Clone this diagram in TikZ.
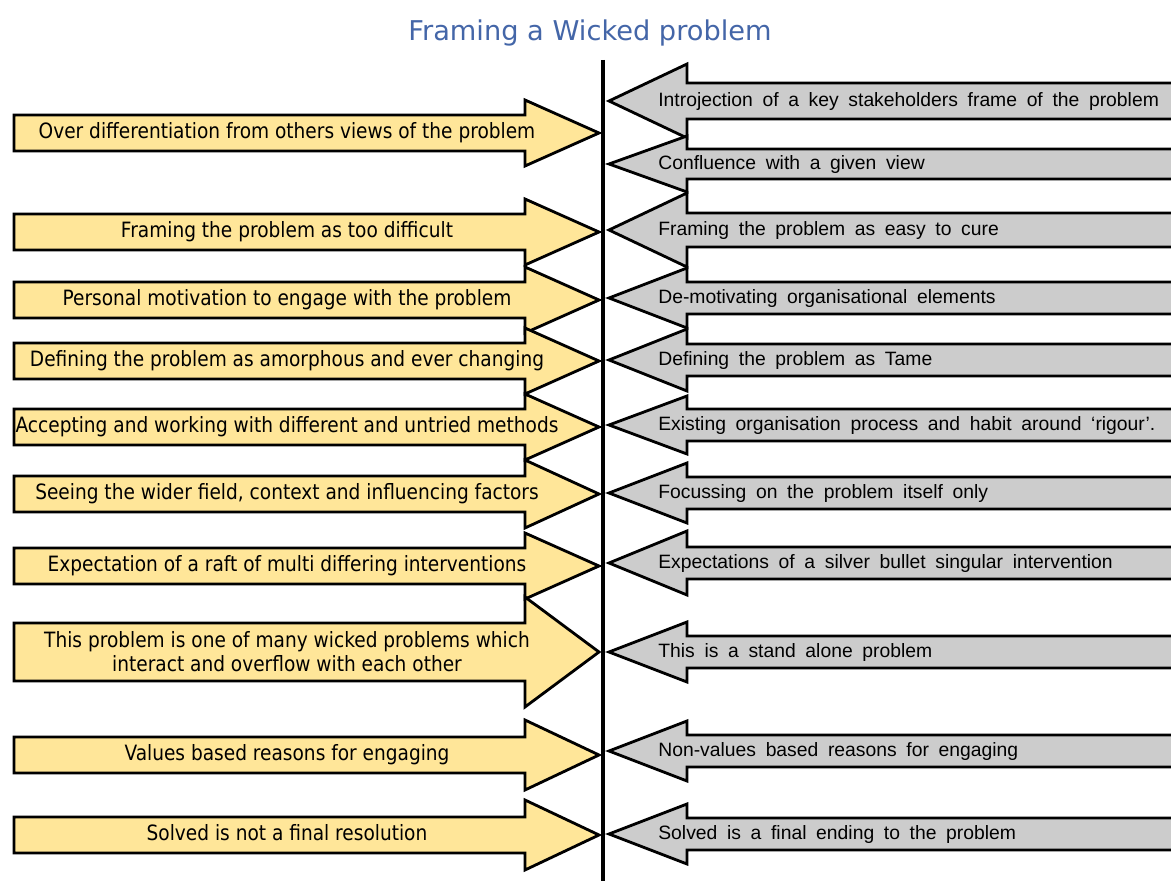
\documentclass[tikz,border=0pt]{standalone}
\usepackage{fontspec}
\usepackage{tikz}
\setmainfont{DejaVu Sans}
\newfontfamily\goldfont[FakeStretch=0.88]{DejaVu Sans}
\newfontfamily\greyfont[WordSpace=1.8]{Liberation Sans}
\definecolor{framegold}{HTML}{FFE699}
\definecolor{framegrey}{HTML}{CCCCCC}
\definecolor{titleblue}{HTML}{4466A8}

\newcommand{\goldarrow}[6][goldtext]{%
\draw[goldshape] (14,#3-#4) -- (525,#3-#4) -- (525,#3-#5) -- (599,#3) -- (525,#3+#5) -- (525,#3+#4) -- (14,#3+#4) -- cycle;
\node[#1] (#2) at (287,#3) {#6};
}
\newcommand{\greyarrow}[5]{%
\draw[greyshape] (1190,#2-#3) -- (687,#2-#3) -- (687,#2-#4) -- (609,#2) -- (687,#2+#4) -- (687,#2+#3) -- (1190,#2+#3) -- cycle;
\node[greytext] (#1) at (658,#2) {#5};
}

\begin{document}
\begin{tikzpicture}[x=0.02cm, y=-0.02cm,
  goldshape/.style={draw, line width=1.6pt, fill=framegold},
  greyshape/.style={draw, line width=1.6pt, fill=framegrey},
  goldtext/.style={font=\goldfont\fontsize{12}{13.6}\selectfont, inner sep=0pt, text height=1.6ex, text depth=0.45ex},
  goldlines/.style={font=\goldfont\fontsize{12}{13.6}\selectfont, inner sep=0pt, align=center},
  greytext/.style={font=\greyfont\fontsize{11}{13}\selectfont, inner sep=0pt, anchor=west, text height=1.6ex, text depth=0.45ex}]
\useasboundingbox (0,0) rectangle (1171,881);
\clip (0,0) rectangle (1171,881);
\node[font=\fontsize{15.5}{18}\selectfont, text=titleblue] (title) at (590,33) {Framing a Wicked problem};

\goldarrow{l1}{133}{18}{33}{Over differentiation from others views of the problem}
\goldarrow{l2}{232}{18}{33}{Framing the problem as too difficult}
\goldarrow{l3}{300}{18}{33}{Personal motivation to engage with the problem}
\goldarrow{l4}{361}{18}{33}{Defining the problem as amorphous and ever changing}
\goldarrow{l5}{427}{18}{33}{Accepting and working with different and untried methods}
\goldarrow{l6}{494}{18}{34}{Seeing the wider field, context and influencing factors}
\goldarrow{l7}{566}{18}{33}{Expectation of a raft of multi differing interventions}
\goldarrow[goldlines]{l8}{652}{29}{55}{This problem is one of many wicked problems which\\interact and overflow with each other}
\goldarrow{l9}{755}{18}{35}{Values based reasons for engaging}
\goldarrow{l10}{835}{18}{35}{Solved is not a final resolution}

\greyarrow{r1}{101}{18}{37}{Introjection of a key stakeholders frame of the problem}
\greyarrow{r2}{164}{15}{28}{Confluence with a given view}
\greyarrow{r3}{230}{17}{37}{Framing the problem as easy to cure}
\greyarrow{r4}{298}{16}{30}{De-motivating organisational elements}
\greyarrow{r5}{360}{16}{31}{Defining the problem as Tame}
\greyarrow{r6}{425}{16}{29}{Existing organisation process and habit around ‘rigour’.}
\greyarrow{r7}{493}{16}{30}{Focussing on the problem itself only}
\greyarrow{r8}{563}{16}{32}{Expectations of a silver bullet singular intervention}
\greyarrow{r9}{652}{16}{30}{This is a stand alone problem}
\greyarrow{r10}{751}{16}{30}{Non-values based reasons for engaging}
\greyarrow{r11}{834}{16}{30}{Solved is a final ending to the problem}

\coordinate (axistop) at (603,60);
\coordinate (axisbottom) at (603,881);
\draw[line width=2.4pt] (axistop) -- (axisbottom);
\end{tikzpicture}
\end{document}
